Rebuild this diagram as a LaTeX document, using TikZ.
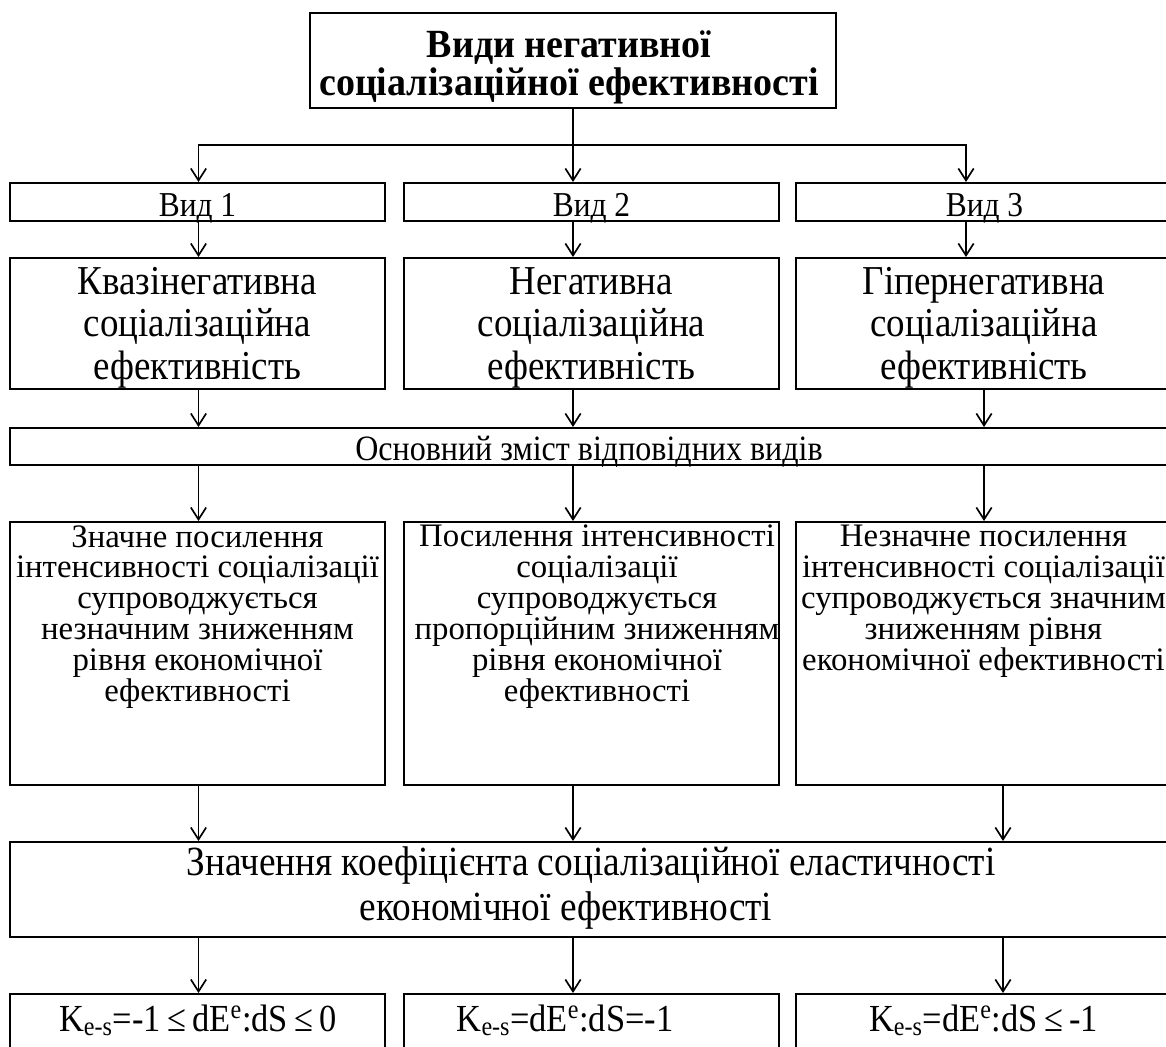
\documentclass[tikz,border=0pt]{standalone}
\usepackage{fontspec}
\setmainfont{Liberation Serif}[FakeStretch=0.9]
\newfontfamily\descfam{Liberation Serif}
\newfontfamily\titlefam{Liberation Serif}[FakeStretch=0.95]
\usetikzlibrary{arrows.meta}
\begin{document}
\begin{tikzpicture}[x=0.75pt,y=-0.75pt,
  bx/.style={draw=black, line width=1.5pt, inner sep=0pt},
  lbl/.style={inner sep=0pt, align=center},
  arr/.style={line width=1.25pt, -{Straight Barb[length=9pt,width=11.5pt,line width=1.25pt]}},
  titlefont/.style={font=\titlefam\fontsize{30}{28.5}\selectfont\bfseries},
  vidfont/.style={font=\fontsize{26.2}{30}\selectfont},
  namefont/.style={font=\fontsize{30.8}{31.9}\selectfont},
  osnfont/.style={font=\fontsize{26.7}{30}\selectfont},
  descfont/.style={font=\descfam\fontsize{24.6}{23.2}\selectfont},
  bigfont/.style={font=\fontsize{31.1}{33.75}\selectfont},
  kfont/.style={font=\fontsize{28.7}{34}\selectfont},
]
\clip (0,0) rectangle (1166,1046);
\fill[white] (0,0) rectangle (1166,1046);
\useasboundingbox (0,0) rectangle (1166,1046);

% column x coordinates
\coordinate (c1) at (198.5,0);
\coordinate (c2) at (573,0);
\coordinate (c3a) at (966,0);
\coordinate (c3b) at (984,0);
\coordinate (c3c) at (1003,0);
\coordinate (br) at (573,145);

% top box
\node[bx, minimum width=526*0.75pt, minimum height=95*0.75pt] (top) at (573,60.5) {};
\node[lbl, titlefont, anchor=north] (topt) at (569,30) {Види негативної\\соціалізаційної ефективності};

% Vid boxes
\node[bx, minimum width=375*0.75pt, minimum height=38*0.75pt] (v1) at (197.5,202) {};
\node[bx, minimum width=375*0.75pt, minimum height=38*0.75pt] (v2) at (591.5,202) {};
\node[bx, minimum width=375*0.75pt, minimum height=38*0.75pt] (v3) at (983.5,202) {};
\node[lbl, vidfont, anchor=base] (v1t) at (197.5,216) {Вид 1};
\node[lbl, vidfont, anchor=base] (v2t) at (591.5,216) {Вид 2};
\node[lbl, vidfont, anchor=base] (v3t) at (984.5,216) {Вид 3};

% name boxes
\node[bx, minimum width=375*0.75pt, minimum height=131*0.75pt] (n1) at (197.5,323.5) {};
\node[bx, minimum width=375*0.75pt, minimum height=131*0.75pt] (n2) at (591.5,323.5) {};
\node[bx, minimum width=375*0.75pt, minimum height=131*0.75pt] (n3) at (983.5,323.5) {};
\node[lbl, namefont, anchor=north] (n1t) at (197.5,267) {Квазінегативна\\соціалізаційна\\ефективність};
\node[lbl, namefont, anchor=north] (n2t) at (591.5,267) {Негативна\\соціалізаційна\\ефективність};
\node[lbl, namefont, anchor=north] (n3t) at (984,267) {Гіпернегативна\\соціалізаційна\\ефективність};

% main content row
\node[bx, minimum width=1162*0.75pt, minimum height=37*0.75pt] (osn) at (591,446.5) {};
\node[lbl, osnfont, anchor=base] (osnt) at (589,460) {Основний зміст відповідних видів};

% description boxes
\node[bx, minimum width=375*0.75pt, minimum height=263*0.75pt] (d1) at (197.5,653.5) {};
\node[bx, minimum width=375*0.75pt, minimum height=263*0.75pt] (d2) at (591.5,653.5) {};
\node[bx, minimum width=375*0.75pt, minimum height=263*0.75pt] (d3) at (983.5,653.5) {};
\node[lbl, descfont, anchor=north] (d1t) at (197.5,525) {Значне посилення\\інтенсивності соціалізації\\супроводжується\\незначним зниженням\\рівня економічної\\ефективності};
\node[lbl, descfont, anchor=north] (d2t) at (597,525) {Посилення інтенсивності\\соціалізації\\супроводжується\\пропорційним зниженням\\рівня економічної\\ефективності};
\node[lbl, descfont, anchor=north] (d3t) at (983.5,525) {Незначне посилення\\інтенсивності соціалізації\\супроводжується значним\\зниженням рівня\\економічної ефективності};

% coefficient box
\node[bx, minimum width=1162*0.75pt, minimum height=95*0.75pt] (big) at (591,889.5) {};
\node[lbl, bigfont, anchor=north] (bigt) at (591,846) {Значення коефіцієнта соціалізаційної еластичності\\економічної ефективності\hspace*{37.5pt}};

% bottom boxes
\node[bx, minimum width=375*0.75pt, minimum height=90*0.75pt, anchor=north] (b1) at (197.5,993) {};
\node[bx, minimum width=375*0.75pt, minimum height=90*0.75pt, anchor=north] (b2) at (591.5,993) {};
\node[bx, minimum width=375*0.75pt, minimum height=90*0.75pt, anchor=north] (b3) at (983.5,993) {};
\node[lbl, kfont, anchor=base] (b1t) at (198,1031) {K\textsubscript{e-s}=-1\,≤\,dE\textsuperscript{e}:dS\,≤\,0};
\node[lbl, kfont, anchor=base] (b2t) at (565,1031) {K\textsubscript{e-s}=dE\textsuperscript{e}:dS=-1};
\node[lbl, kfont, anchor=base] (b3t) at (983.5,1031) {K\textsubscript{e-s}=dE\textsuperscript{e}:dS\,≤\,-1};

% connectors
\draw[arr] (top.south) -- (v2.north -| c2);
\draw[arr] (br) -| (v1.north -| c1);
\draw[arr] (br) -| (v3.north -| c3a);

\draw[arr] (v1.south -| c1) -- (n1.north -| c1);
\draw[arr] (v2.south -| c2) -- (n2.north -| c2);
\draw[arr] (v3.south -| c3a) -- (n3.north -| c3a);

\draw[arr] (n1.south -| c1) -- (osn.north -| c1);
\draw[arr] (n2.south -| c2) -- (osn.north -| c2);
\draw[arr] (n3.south -| c3b) -- (osn.north -| c3b);

\draw[arr] (osn.south -| c1) -- (d1.north -| c1);
\draw[arr] (osn.south -| c2) -- (d2.north -| c2);
\draw[arr] (osn.south -| c3b) -- (d3.north -| c3b);

\draw[arr] (d1.south -| c1) -- (big.north -| c1);
\draw[arr] (d2.south -| c2) -- (big.north -| c2);
\draw[arr] (d3.south -| c3c) -- (big.north -| c3c);

\draw[arr] (big.south -| c1) -- (b1.north -| c1);
\draw[arr] (big.south -| c2) -- (b2.north -| c2);
\draw[arr] (big.south -| c3c) -- (b3.north -| c3c);
\end{tikzpicture}
\end{document}
